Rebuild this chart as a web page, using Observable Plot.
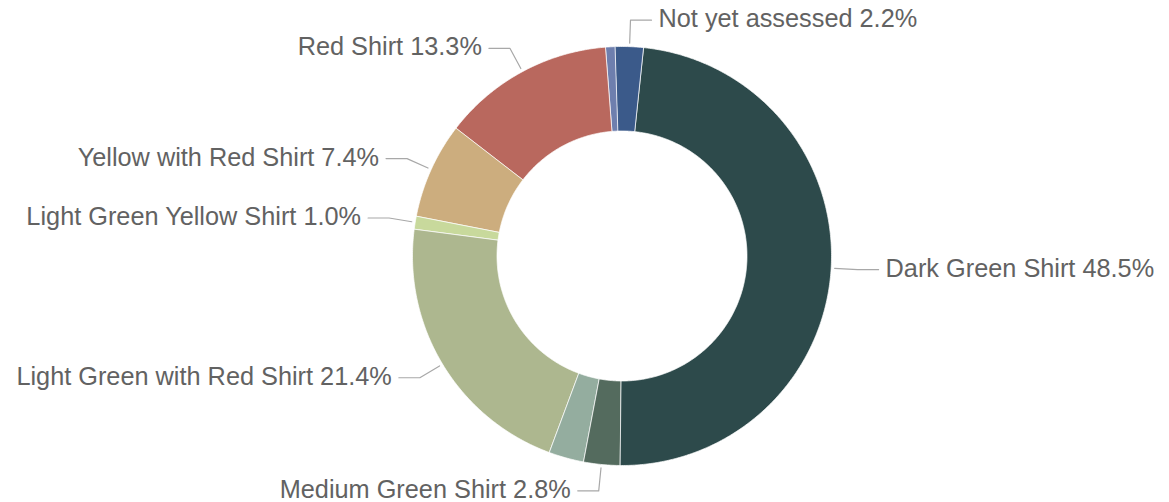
<!DOCTYPE html>
<html><head><meta charset="utf-8">
<script src="https://cdn.jsdelivr.net/npm/d3@7"></script>
<script src="https://cdn.jsdelivr.net/npm/@observablehq/plot@0.6"></script>
<style>body{margin:0;background:#fff}</style>
</head><body><div id="chart"></div>
<script>
// Data
const categories = ["Not yet assessed","Dark Green Shirt","Medium Green Shirt","Light Green Shirt","Light Green with Red Shirt","Light Green Yellow Shirt","Yellow with Red Shirt","Red Shirt","Other"];
const values = [2.2, 48.5, 2.8, 2.7, 21.4, 1.0, 7.4, 13.3, 0.7];
const colors = ["#3b5a8a","#2d4a4b","#546b5e","#94ad9f","#adb78f","#c8d99c","#ccad7e","#b9685e","#6e7fae"];
const showLabel = [true, true, true, false, true, true, true, true, false];

// Layout
const W = 1169, H = 502;
const cx = 621.5, cy = 255.5;
const R = 209.5, r0 = 125;
const startDeg = -1.9;
const total = d3.sum(values);

let acc = startDeg * Math.PI / 180;
const slices = categories.map((name, i) => {
  const a0 = acc;
  const a1 = acc + values[i] / total * 2 * Math.PI;
  acc = a1;
  return {name, value: values[i], a0, a1, mid: (a0 + a1) / 2, show: showLabel[i]};
});

const poly = [];
for (const s of slices) {
  const n = Math.max(4, Math.ceil((s.a1 - s.a0) / (Math.PI / 360)));
  for (let k = 0; k <= n; k++) {
    const a = s.a0 + (s.a1 - s.a0) * k / n;
    poly.push({name: s.name, x: R * Math.sin(a), y: R * Math.cos(a)});
  }
  for (let k = n; k >= 0; k--) {
    const a = s.a0 + (s.a1 - s.a0) * k / n;
    poly.push({name: s.name, x: r0 * Math.sin(a), y: r0 * Math.cos(a)});
  }
}

const leaders = [];
const labels = [];
for (const s of slices.filter(d => d.show)) {
  const side = Math.sin(s.mid) >= 0 ? 1 : -1;
  const p0 = {x: 213 * Math.sin(s.mid), y: 213 * Math.cos(s.mid)};
  const p1 = {x: 236 * Math.sin(s.mid), y: 236 * Math.cos(s.mid)};
  const p2 = {x: p1.x + side * 21, y: p1.y};
  leaders.push({name: s.name, ...p0}, {name: s.name, ...p1}, {name: s.name, ...p2});
  labels.push({side, x: p2.x, y: p2.y, text: `${s.name} ${(s.value / total * 100).toFixed(1)}%`});
}

const font = {fontSize: 25.3, fontFamily: "Liberation Sans, Arial, sans-serif", fill: "#626262"};

const chart = Plot.plot({
  width: W, height: H, margin: 0,
  x: {domain: [-cx, W - cx], range: [0, W], axis: null},
  y: {domain: [-(H - cy), cy], range: [H, 0], axis: null},
  color: {domain: categories, range: colors},
  style: {background: "white", overflow: "visible"},
  marks: [
    Plot.line(poly, {x: "x", y: "y", z: "name", fill: "name", stroke: "white", strokeWidth: 1, strokeOpacity: 0.7, curve: "linear-closed"}),
    Plot.line(leaders, {x: "x", y: "y", z: "name", stroke: "#a8a8a8", strokeWidth: 1.2}),
    Plot.text(labels.filter(d => d.side > 0), {x: "x", y: "y", text: "text", textAnchor: "start", dx: 7, dy: -1, ...font}),
    Plot.text(labels.filter(d => d.side < 0), {x: "x", y: "y", text: "text", textAnchor: "end", dx: -7, dy: -1, ...font})
  ]
});
document.getElementById("chart").appendChild(chart);
</script>
</body></html>
